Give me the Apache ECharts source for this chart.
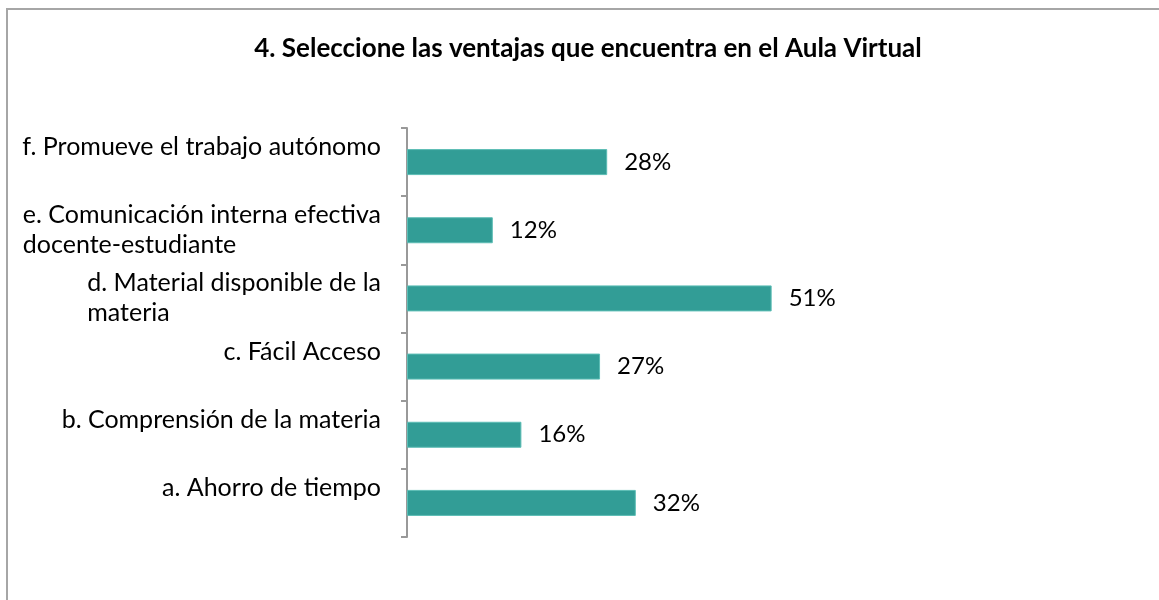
<!DOCTYPE html>
<html>
<head>
<meta charset="utf-8">
<script src="https://cdn.jsdelivr.net/npm/echarts@6/dist/echarts.min.js"></script>
<style>
  html, body { margin: 0; padding: 0; background: #fff; }
  #chart { width: 1159px; height: 600px; }
</style>
</head>
<body>
<div id="chart"></div>
<script>
const titleText = "4. Seleccione las ventajas que encuentra en el Aula Virtual";
const categories = [
  "a. Ahorro de tiempo",
  "b. Comprensión de la materia",
  "c. Fácil Acceso",
  "d. Material disponible de la\nmateria",
  "e. Comunicación interna efectiva\ndocente-estudiante",
  "f. Promueve el trabajo autónomo"
];
const values = [32, 16, 27, 51, 12, 28];

const FONT = "Lato, 'Noto Sans', sans-serif";
const chart = echarts.init(document.getElementById("chart"));

const option = {
  animation: false,
  title: {
    text: titleText,
    left: 583,
    textAlign: "center",
    top: 31,
    textStyle: { fontFamily: FONT, fontWeight: "bold", fontSize: 26, color: "#000" }
  },
  graphic: [{
    type: "rect",
    shape: { x: 7, y: 9, width: 1300, height: 800 },
    style: { fill: "none", stroke: "#a6a6a6", lineWidth: 2 },
    silent: true
  }],
  grid: { left: 407, right: 323, top: 128, bottom: 63 },
  xAxis: {
    type: "value",
    min: 0,
    max: 60,
    show: false
  },
  yAxis: {
    type: "category",
    data: categories,
    axisLine: { lineStyle: { color: "#999", width: 2 } },
    axisTick: { show: true, length: 6, lineStyle: { color: "#999", width: 2 } },
    axisLabel: {
      margin: 26,
      fontFamily: FONT,
      fontSize: 25,
      color: "#000",
      lineHeight: 30,
      formatter: (v) => {
        const lines = v.split("\n").map(s => "{l|" + s + "}");
        if (lines.length === 1) lines.push("{l| }");
        return lines.join("\n");
      },
      rich: { l: { align: "left", fontFamily: FONT, fontSize: 25, color: "#000", lineHeight: 30 } }
    }
  },
  series: [{
    type: "bar",
    data: values,
    barWidth: 26,
    itemStyle: { color: "#329d96", borderColor: "#5cbdb5", borderWidth: 1 },
    label: {
      show: true,
      position: "right",
      distance: 17,
      formatter: "{c}%",
      fontFamily: FONT,
      fontSize: 24,
      color: "#000"
    }
  }]
};

chart.setOption(option);
</script>
</body>
</html>
